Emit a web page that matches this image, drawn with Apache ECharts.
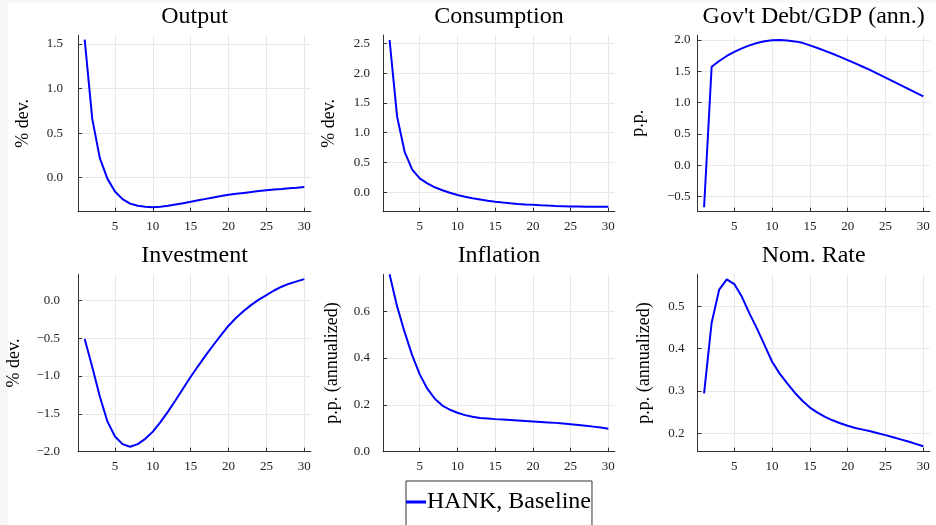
<!DOCTYPE html>
<html>
<head>
<meta charset="utf-8">
<script src="https://cdn.jsdelivr.net/npm/echarts@6/dist/echarts.min.js"></script>
<style>
  html, body { margin: 0; padding: 0; background: #ffffff; }
  #chart { width: 936px; height: 525px; }
</style>
</head>
<body>
<div id="chart"></div>
<script>
// Impulse responses, quarters 1..30
const periods = [1, 2, 3, 4, 5, 6, 7, 8, 9, 10, 11, 12, 13, 14, 15,
                 16, 17, 18, 19, 20, 21, 22, 23, 24, 25, 26, 27, 28, 29, 30];

const output = [1.55, 0.66, 0.22, -0.01, -0.155, -0.24, -0.29, -0.315, -0.325, -0.33,
                -0.325, -0.315, -0.30, -0.285, -0.27, -0.253, -0.237, -0.221, -0.206, -0.19,
                -0.18, -0.17, -0.16, -0.15, -0.14, -0.133, -0.126, -0.118, -0.112, -0.105];

const consumption = [2.556, 1.27, 0.68, 0.38, 0.235, 0.15, 0.085, 0.035, -0.008, -0.045,
                     -0.075, -0.10, -0.12, -0.14, -0.157, -0.171, -0.183, -0.194, -0.203, -0.21,
                     -0.217, -0.223, -0.228, -0.232, -0.236, -0.238, -0.24, -0.241, -0.241, -0.24];

const govDebt = [-0.67, 1.574, 1.665, 1.745, 1.81, 1.867, 1.915, 1.952, 1.98, 1.995,
                 2.0, 1.993, 1.978, 1.955, 1.915, 1.872, 1.827, 1.78, 1.731, 1.68,
                 1.627, 1.573, 1.518, 1.461, 1.40, 1.341, 1.281, 1.221, 1.16, 1.10];

const investment = [-0.51, -0.88, -1.27, -1.6, -1.80, -1.90, -1.934, -1.90, -1.83, -1.735,
                    -1.61, -1.47, -1.32, -1.165, -1.01, -0.865, -0.725, -0.59, -0.46, -0.335,
                    -0.23, -0.14, -0.06, 0.01, 0.07, 0.13, 0.18, 0.22, 0.25, 0.28];

const inflation = [0.757, 0.62, 0.51, 0.411, 0.33, 0.269, 0.226, 0.197, 0.179, 0.166,
                   0.156, 0.149, 0.144, 0.142, 0.139, 0.137, 0.135, 0.133, 0.131, 0.129,
                   0.127, 0.125, 0.123, 0.12, 0.117, 0.114, 0.111, 0.107, 0.103, 0.098];

const nomRate = [0.2945, 0.461, 0.539, 0.563, 0.552, 0.522, 0.483, 0.447, 0.408, 0.369,
                 0.341, 0.318, 0.296, 0.277, 0.261, 0.249, 0.239, 0.231, 0.224, 0.218,
                 0.213, 0.209, 0.205, 0.2005, 0.196, 0.191, 0.186, 0.181, 0.1755, 0.170];

const titles = ["Output", "Consumption", "Gov't Debt/GDP (ann.)", "Investment", "Inflation", "Nom. Rate"];
const yNames = ["% dev.", "% dev.", "p.p.", "% dev.", "p.p. (annualized)", "p.p. (annualized)"];
const seriesName = "HANK, Baseline";

const xTicks = [5, 10, 15, 20, 25, 30];
const yTicks = [
  [0.0, 0.5, 1.0, 1.5],
  [0.0, 0.5, 1.0, 1.5, 2.0, 2.5],
  [-0.5, 0.0, 0.5, 1.0, 1.5, 2.0],
  [-2.0, -1.5, -1.0, -0.5, 0.0],
  [0.0, 0.2, 0.4, 0.6],
  [0.2, 0.3, 0.4, 0.5]
];
const values = [output, consumption, govDebt, investment, inflation, nomRate];

// panel layout (px) and axis extents
const panels = [
  { left: 78.1,  top: 35,    width: 232.8, height: 176.7, yMin: -0.381, yMax: 1.601, labelMargin: 15, nameGap: 46 },
  { left: 383.0, top: 35,    width: 231.9, height: 176.7, yMin: -0.325, yMax: 2.64,  labelMargin: 13, nameGap: 45 },
  { left: 697.5, top: 35,    width: 232.4, height: 176.7, yMin: -0.74,  yMax: 2.08,  labelMargin: 7,  nameGap: 50 },
  { left: 78.1,  top: 274.3, width: 232.8, height: 177.4, yMin: -2.0,   yMax: 0.344, labelMargin: 18, nameGap: 55 },
  { left: 383.0, top: 274.3, width: 231.9, height: 177.4, yMin: 0.0,    yMax: 0.757, labelMargin: 13, nameGap: 42 },
  { left: 697.5, top: 274.3, width: 232.4, height: 177.4, yMin: 0.157,  yMax: 0.575, labelMargin: 13, nameGap: 44 }
];
const xMin = 0.13, xMax = 30.87;

const FONT = "'Liberation Serif', 'DejaVu Serif', serif";
const AXIS_COLOR = '#333333';
const GRID_COLOR = '#e8e8e8';
const fmt = v => v.toFixed(1).replace('-', '\u2212');

const grid = [], xAxis = [], yAxis = [], series = [], title = [];

panels.forEach((p, i) => {
  grid.push({ left: p.left, top: p.top, width: p.width, height: p.height, containLabel: false });
  title.push({
    text: titles[i],
    left: p.left + p.width / 2,
    top: i < 3 ? 5 : 244,
    textAlign: 'center',
    padding: 0,
    textStyle: { fontFamily: FONT, fontSize: 24, fontWeight: 'normal', color: '#000' }
  });
  xAxis.push({
    type: 'value', gridIndex: i, min: xMin, max: xMax,
    axisLine: { show: true, onZero: false, lineStyle: { color: AXIS_COLOR, width: 1 } },
    axisTick: { show: true, inside: true, length: 4, customValues: xTicks, lineStyle: { color: AXIS_COLOR } },
    axisLabel: { customValues: xTicks, margin: 8, fontFamily: FONT, fontSize: 13, color: '#222',
                 formatter: v => String(v) },
    splitLine: { show: true, lineStyle: { color: GRID_COLOR, width: 1 } }
  });
  yAxis.push({
    type: 'value', gridIndex: i, min: p.yMin, max: p.yMax,
    name: yNames[i], nameLocation: 'middle', nameRotate: 90, nameGap: p.nameGap,
    nameTextStyle: { fontFamily: FONT, fontSize: 18, color: '#000' },
    axisLine: { show: true, onZero: false, lineStyle: { color: AXIS_COLOR, width: 1 } },
    axisTick: { show: true, inside: true, length: 4, customValues: yTicks[i], lineStyle: { color: AXIS_COLOR } },
    axisLabel: { customValues: yTicks[i], margin: p.labelMargin, fontFamily: FONT, fontSize: 13, color: '#222',
                 formatter: fmt },
    splitLine: { show: true, lineStyle: { color: GRID_COLOR, width: 1 } }
  });
  series.push({
    name: seriesName, type: 'line', xAxisIndex: i, yAxisIndex: i,
    data: periods.map((t, k) => [t, values[i][k]]),
    showSymbol: false, smooth: false, animation: false,
    lineStyle: { color: '#0000ff', width: 2 }, itemStyle: { color: '#0000ff' }
  });
});

const chart = echarts.init(document.getElementById('chart'), null, { renderer: 'canvas' });
chart.setOption({
  backgroundColor: '#ffffff',
  animation: false,
  title: title,
  grid: grid,
  xAxis: xAxis,
  yAxis: yAxis,
  series: series,
  legend: {
    data: [{ name: seriesName, icon: 'rect' }],
    left: 406, top: 481,
    itemWidth: 20, itemHeight: 3, itemGap: 0,
    padding: [9, 1, 30, 0],
    borderColor: '#333', borderWidth: 1,
    textStyle: { fontFamily: FONT, fontSize: 24, color: '#000', padding: [0, 0, 0, -4] }
  },
  graphic: [
    { type: 'rect', shape: { x: 0, y: 0, width: 8, height: 525 }, style: { fill: '#f7f7f7' }, silent: true },
    { type: 'rect', shape: { x: 0, y: 0, width: 936, height: 3 }, style: { fill: '#f7f7f7' }, silent: true }
  ]
});
</script>
</body>
</html>
